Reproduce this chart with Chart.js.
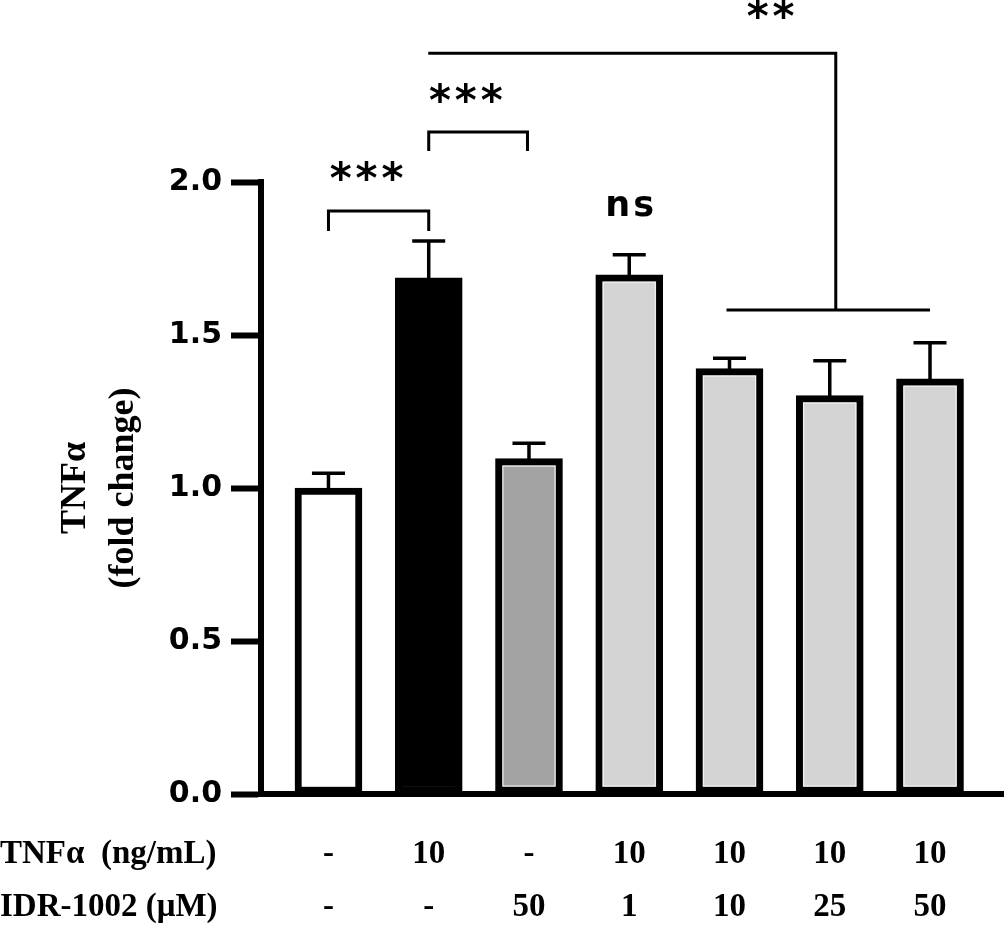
<!DOCTYPE html>
<html>
<head>
<meta charset="utf-8">
<script src="https://cdn.jsdelivr.net/npm/chart.js@4.4.1/dist/chart.umd.min.js"></script>
<style>
  html, body { margin: 0; padding: 0; background: #fff; }
  #graph { display: block; }
</style>
</head>
<body>
<canvas id="graph" width="1004" height="929"></canvas>
<script>
// groups (x positions 0..6)
var tnfDose = ['-', '10', '-', '10', '10', '10', '10'];
var idrDose = ['-', '-', '50', '1', '10', '25', '50'];
// fold change, mean and SEM (upper bar only)
var means = [1.00, 1.687, 1.096, 1.697, 1.390, 1.302, 1.357];
var sem   = [0.048, 0.120, 0.050, 0.065, 0.034, 0.114, 0.118];
var fills = ['#ffffff', '#000000', '#a3a3a3', '#d4d4d4', '#d4d4d4', '#d4d4d4', '#d4d4d4'];
var yTicks = [0, 0.5, 1.0, 1.5, 2.0];

// significance brackets: [x from, x to, level, drop to]
var brackets = [
  [0, 1, 1.905, 1.840],
  [1, 1.985, 2.163, 2.101]
];
// big bracket: top line x1..x2 at level, drop at x2 to lower level, lower line x3..x4
var groupBracket = { x1: 0.995, x2: 5.06, top: 2.421, low: 1.582, x3: 3.97, x4: 6.0 };
// stars text: [x, y, label]
var sigText = [
  [0.40, 2.023, '***'],
  [1.39, 2.277, '***'],
  [3.02, 1.899, 'ns'],
  [4.43, 2.551, '**']
];

var errorBars = {
  id: 'errorBars',
  afterDatasetsDraw: function(chart) {
    var ctx = chart.ctx, y = chart.scales.y;
    var meta = chart.getDatasetMeta(0);
    ctx.save();
    meta.data.forEach(function(bar, i) {
      // thin light line just inside the border of the grey bars
      if (fills[i] !== '#ffffff' && fills[i] !== '#000000') {
        ctx.strokeStyle = '#f4f4f4';
        ctx.lineWidth = 1;
        ctx.strokeRect(bar.x - 26, bar.y + 7.5, 52, bar.base - bar.y - 15);
      }
      var y0 = y.getPixelForValue(means[i]);
      var y1 = y.getPixelForValue(means[i] + sem[i]);
      ctx.strokeStyle = '#000';
      ctx.lineWidth = 3.5;
      ctx.beginPath();
      ctx.moveTo(bar.x, y0 + 2);
      ctx.lineTo(bar.x, y1);
      ctx.moveTo(bar.x - 16.5, y1);
      ctx.lineTo(bar.x + 16.5, y1);
      ctx.stroke();
    });
    ctx.restore();
  }
};

var annotations = {
  id: 'annotations',
  afterDraw: function(chart) {
    var ctx = chart.ctx, xs = chart.scales.x, ys = chart.scales.y;
    ctx.save();
    ctx.strokeStyle = '#000';
    ctx.lineWidth = 3;
    brackets.forEach(function(b) {
      var xa = xs.getPixelForValue(b[0]), xb = xs.getPixelForValue(b[1]);
      var yl = ys.getPixelForValue(b[2]), yd = ys.getPixelForValue(b[3]);
      ctx.beginPath();
      ctx.moveTo(xa, yd);
      ctx.lineTo(xa, yl);
      ctx.lineTo(xb, yl);
      ctx.lineTo(xb, yd);
      ctx.stroke();
    });
    var g = groupBracket;
    ctx.beginPath();
    ctx.moveTo(xs.getPixelForValue(g.x1), ys.getPixelForValue(g.top));
    ctx.lineTo(xs.getPixelForValue(g.x2), ys.getPixelForValue(g.top));
    ctx.lineTo(xs.getPixelForValue(g.x2), ys.getPixelForValue(g.low));
    ctx.moveTo(xs.getPixelForValue(g.x3), ys.getPixelForValue(g.low));
    ctx.lineTo(xs.getPixelForValue(g.x4), ys.getPixelForValue(g.low));
    ctx.stroke();

    ctx.fillStyle = '#000';
    ctx.textAlign = 'center';
    ctx.textBaseline = 'middle';
    sigText.forEach(function(t) {
      var star = t[2].charAt(0) === '*';
      ctx.font = star ? 'bold 42px "DejaVu Sans"' : 'bold 35px "DejaVu Sans"';
      ctx.letterSpacing = star ? '4px' : '3px';
      var px = xs.getPixelForValue(t[0]), py = ys.getPixelForValue(t[1]);
      ctx.fillText(t[2], px, star ? py + 7 : py - 6);
    });

    // row captions for the dose rows
    ctx.letterSpacing = '0px';
    ctx.font = 'bold 33px "Liberation Serif"';
    ctx.textAlign = 'left';
    ctx.fillText('TNF\u03b1  (ng/mL)', 0, xs.top + 60);
    ctx.fillText('IDR-1002 (\u03bcM)', 0, xs.top + 113);
    ctx.restore();
  }
};

var ctx = document.getElementById('graph').getContext('2d');
var chart = new Chart(ctx, {
  type: 'bar',
  data: {
    datasets: [{
      data: means.map(function(m, i) { return { x: i, y: m }; }),
      backgroundColor: fills,
      borderColor: '#000',
      borderWidth: 7,
      borderSkipped: false,
      barThickness: 67
    }]
  },
  options: {
    responsive: false,
    animation: false,
    devicePixelRatio: 1,
    layout: { padding: { top: 182, right: 0, bottom: 0, left: 0 } },
    plugins: { legend: { display: false }, tooltip: { enabled: false } },
    scales: {
      x: {
        type: 'linear',
        offset: false,
        min: -0.673,
        max: 6.738,
        grid: { display: false },
        border: { display: true, color: '#000', width: 6 },
        afterBuildTicks: function(s) {
          s.ticks = tnfDose.map(function(d, i) { return { value: i }; });
        },
        afterFit: function(s) { s.height = 135; },
        ticks: {
          autoSkip: false,
          maxRotation: 0,
          padding: 26,
          color: '#000',
          font: { family: 'Liberation Serif', weight: 'bold', size: 33, lineHeight: 1.6 },
          callback: function(v) { return [tnfDose[v], idrDose[v]]; }
        }
      },
      y: {
        min: 0,
        max: 2,
        afterBuildTicks: function(s) {
          s.ticks = yTicks.map(function(v) { return { value: v }; });
        },
        afterFit: function(s) { s.width = 261; },
        grid: { display: true, drawOnChartArea: false, tickLength: 30, tickWidth: 6, tickColor: '#000' },
        border: { display: true, color: '#000', width: 6 },
        ticks: {
          padding: 9,
          color: '#000',
          font: { family: 'DejaVu Sans', weight: 'bold', size: 30 },
          callback: function(v) { return v.toFixed(1); }
        },
        title: {
          display: true,
          text: ['TNF\u03b1', '(fold change)'],
          color: '#000',
          padding: { top: 52, bottom: 0 },
          font: { family: 'Liberation Serif', weight: 'bold', size: 36, lineHeight: 1.33 }
        }
      }
    }
  },
  plugins: [errorBars, annotations]
});
</script>
</body>
</html>
